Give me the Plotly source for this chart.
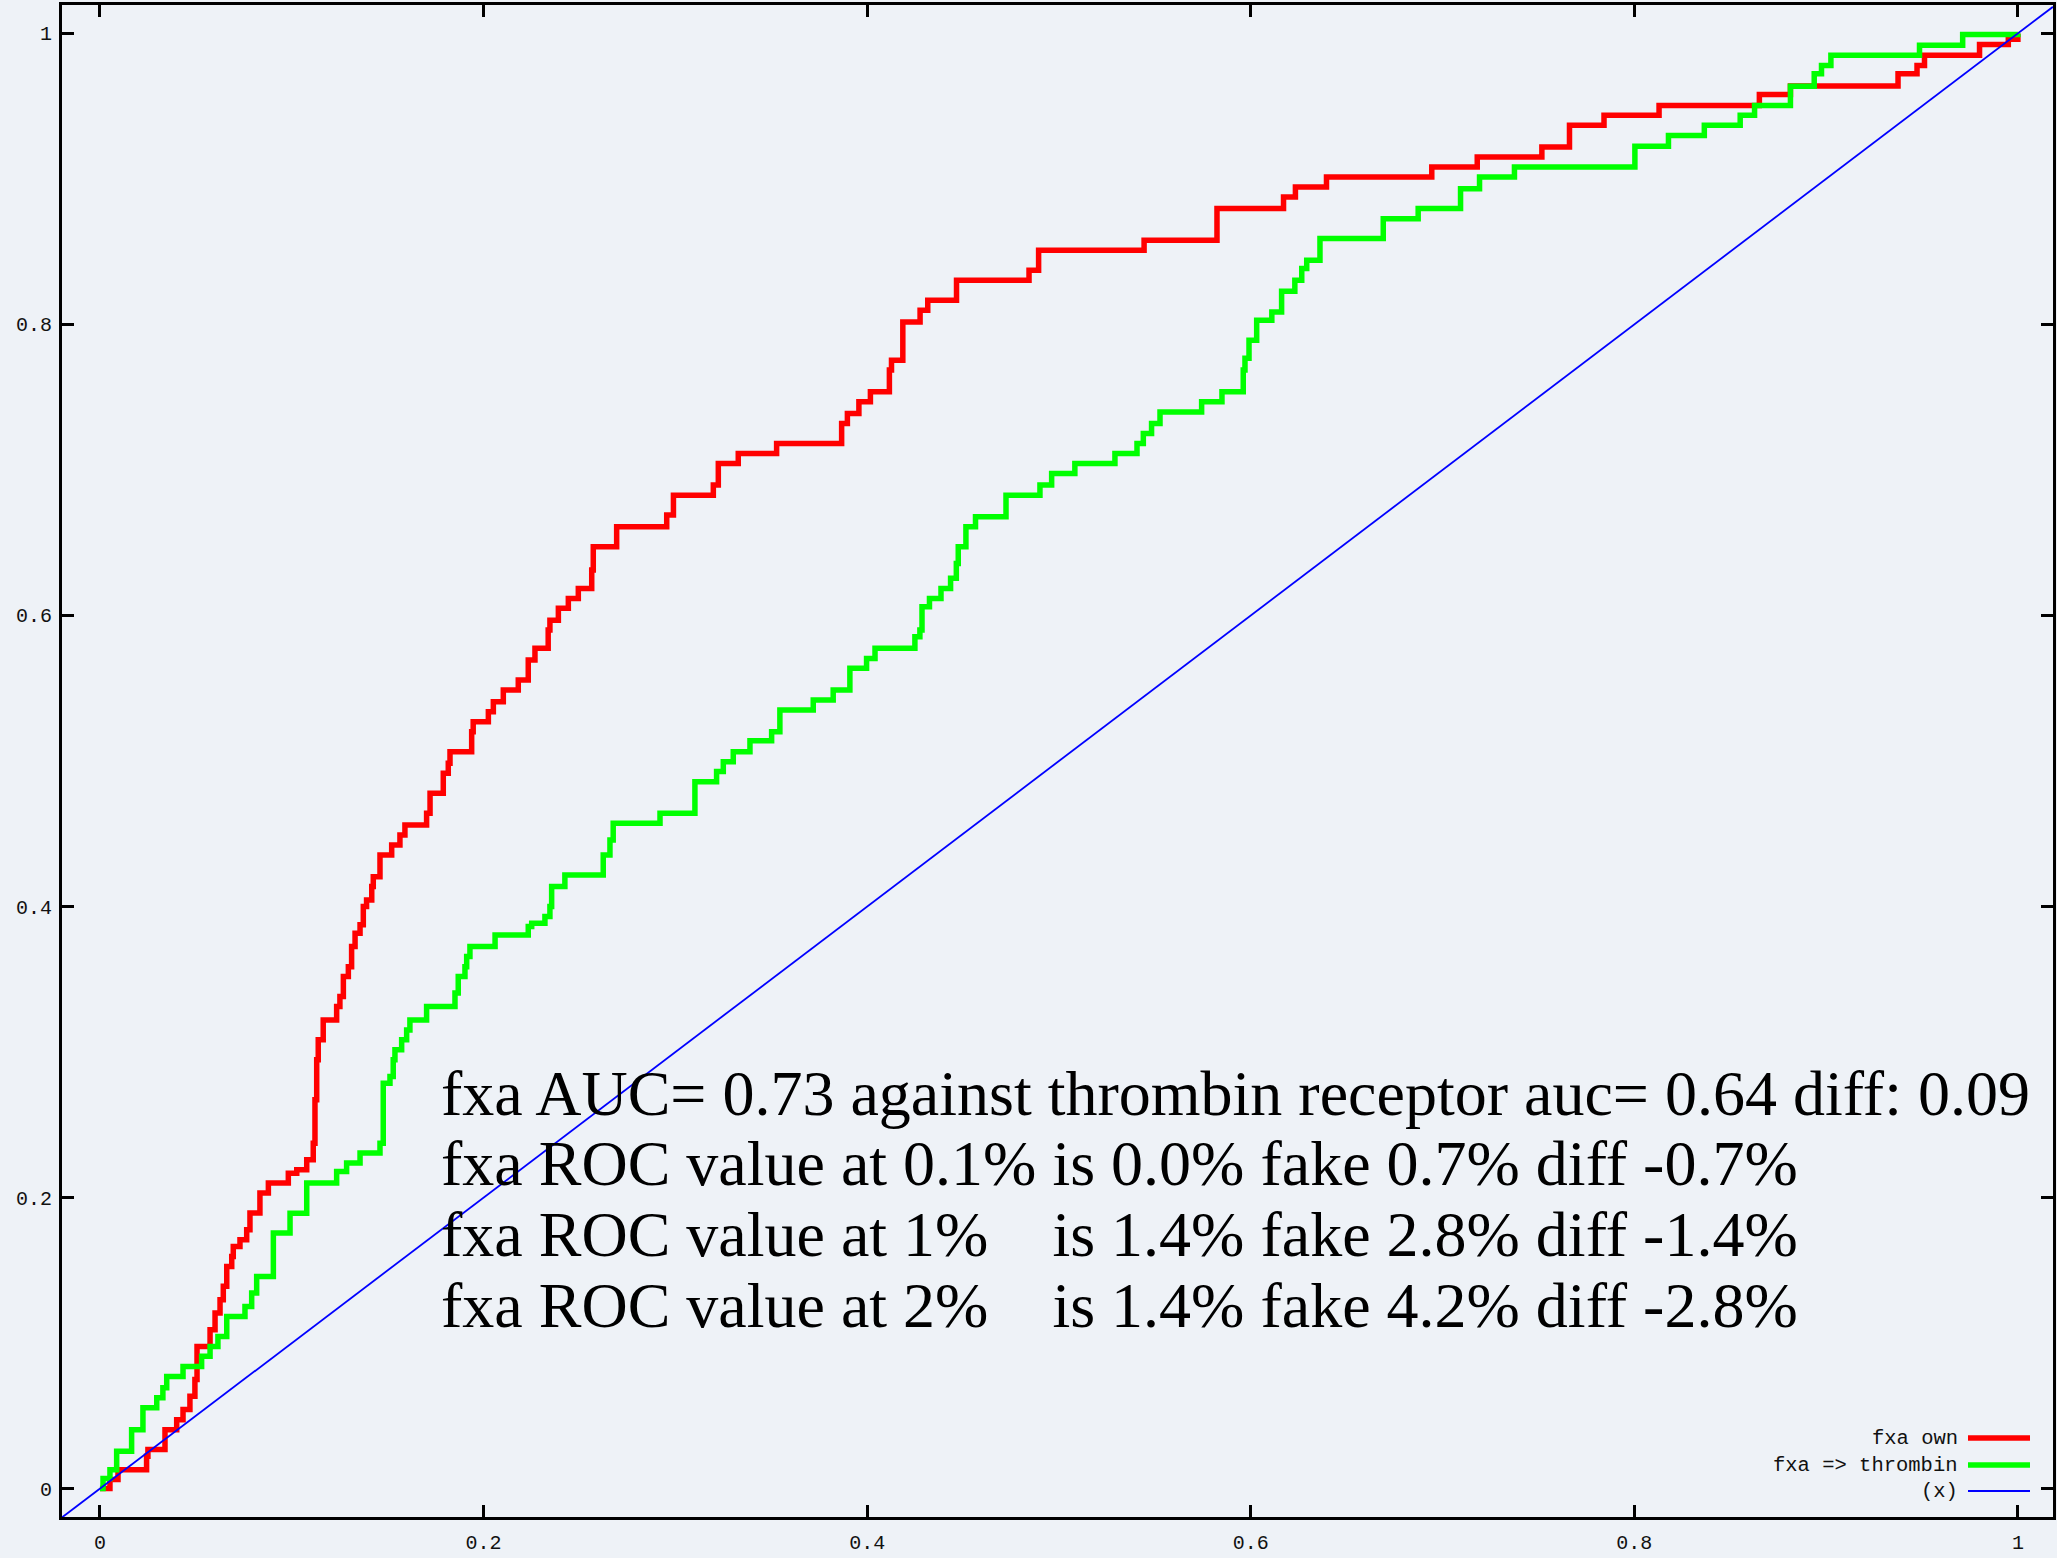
import plotly.graph_objects as go

# ---- data ----
fxa_own_fpr = [0, 0.0052, 0.0094, 0.0243, 0.025, 0.0339, 0.040, 0.0433, 0.0469, 0.0495,
               0.0506, 0.0574, 0.060, 0.0626, 0.0643, 0.0661, 0.0687, 0.0695, 0.073, 0.0765,
               0.0782, 0.0834, 0.0878, 0.0982, 0.1026, 0.1078, 0.1112, 0.1121, 0.113, 0.1138,
               0.1164, 0.1234, 0.1251, 0.1269, 0.1295, 0.1312, 0.1330, 0.1356, 0.1373, 0.139,
               0.1417, 0.1425, 0.146, 0.1521, 0.1564, 0.159, 0.1703, 0.1721, 0.179, 0.1816,
               0.1825, 0.1938, 0.1946, 0.2025, 0.2051, 0.2103, 0.2181, 0.2233, 0.2268, 0.2337,
               0.2346, 0.239, 0.2442, 0.2494, 0.2564, 0.2572, 0.2694, 0.2955, 0.299, 0.3198,
               0.3224, 0.3328, 0.3528, 0.3867, 0.3897, 0.3957, 0.4017, 0.4116, 0.4127, 0.4186,
               0.4276, 0.4316, 0.4466, 0.4844, 0.4894, 0.5444, 0.5824, 0.6171, 0.6233, 0.6395,
               0.6944, 0.7181, 0.7518, 0.7662, 0.7842, 0.8129, 0.8652, 0.8814, 0.9375, 0.9474,
               0.9513, 0.98, 0.995, 1.0]
fxa_own_tpr = [0, 0.0062, 0.0130, 0.0222, 0.0268, 0.0405, 0.0474, 0.0543, 0.0634, 0.0749,
               0.0977, 0.1092, 0.1207, 0.1298, 0.139, 0.1527, 0.1595, 0.1664, 0.171, 0.1779,
               0.1894, 0.2031, 0.21, 0.2168, 0.2191, 0.226, 0.2374, 0.2672, 0.2947, 0.3084,
               0.3221, 0.3313, 0.3381, 0.3519, 0.3587, 0.3725, 0.3817, 0.3874, 0.4, 0.4045,
               0.4137, 0.4205, 0.4354, 0.4423, 0.4492, 0.456, 0.4641, 0.4778, 0.4916, 0.4984,
               0.5064, 0.5201, 0.527, 0.5339, 0.5407, 0.5488, 0.5556, 0.5694, 0.5774, 0.59,
               0.5968, 0.6049, 0.6117, 0.6186, 0.6312, 0.6472, 0.6609, 0.669, 0.6827, 0.6896,
               0.7045, 0.7113, 0.7182, 0.7319, 0.7388, 0.7468, 0.7537, 0.7686, 0.7754, 0.8017,
               0.8097, 0.8166, 0.8303, 0.8372, 0.851, 0.8578, 0.8796, 0.8876, 0.8945, 0.9013,
               0.9082, 0.915, 0.9219, 0.9368, 0.9437, 0.9505, 0.958, 0.9638, 0.9723, 0.978,
               0.9849, 0.9924, 0.996, 1.0]

fxa_thr_fpr = [0, 0.0016, 0.0052, 0.0087, 0.0165, 0.0224, 0.0296, 0.0328, 0.0348, 0.0433,
               0.053, 0.0574, 0.0615, 0.0661, 0.0756, 0.0791, 0.0817, 0.0904, 0.0991, 0.1078,
               0.1234, 0.1286, 0.1356, 0.146, 0.1477, 0.1512, 0.1529, 0.1538, 0.1573, 0.1599,
               0.1616, 0.1703, 0.1851, 0.1868, 0.1903, 0.1912, 0.1929, 0.206, 0.2233, 0.2251,
               0.232, 0.2346, 0.2355, 0.2424, 0.2624, 0.2659, 0.2676, 0.292, 0.3102, 0.3215,
               0.325, 0.3302, 0.3389, 0.3502, 0.3545, 0.3719, 0.3823, 0.391, 0.3997, 0.4041,
               0.4249, 0.4275, 0.4286, 0.4325, 0.4385, 0.4435, 0.4465, 0.4475, 0.4515, 0.4565,
               0.4724, 0.4901, 0.4962, 0.5083, 0.5292, 0.5407, 0.544, 0.5483, 0.5527, 0.5744,
               0.585, 0.5961, 0.597, 0.5991, 0.6031, 0.611, 0.6161, 0.623, 0.6266, 0.6292,
               0.6361, 0.6691, 0.6873, 0.7094, 0.7193, 0.7375, 0.8003, 0.8178, 0.8365, 0.8552,
               0.8627, 0.8814, 0.8938, 0.8976, 0.9025, 0.9487, 0.9712, 1.0]
fxa_thr_tpr = [0, 0.0069, 0.013, 0.0256, 0.0405, 0.0556, 0.0625, 0.0694, 0.0771, 0.084,
               0.0909, 0.0977, 0.1046, 0.1183, 0.1252, 0.1344, 0.1458, 0.1756, 0.1893, 0.21,
               0.2179, 0.2237, 0.2306, 0.2374, 0.2786, 0.2832, 0.2947, 0.3015, 0.3084, 0.3152,
               0.3221, 0.3313, 0.3405, 0.3519, 0.3587, 0.3656, 0.3725, 0.3805, 0.3862, 0.3885,
               0.3931, 0.4, 0.4137, 0.4217, 0.4354, 0.4457, 0.4572, 0.4641, 0.4858, 0.4927,
               0.4995, 0.5064, 0.5139, 0.5201, 0.535, 0.5419, 0.5488, 0.5637, 0.5705, 0.5774,
               0.5854, 0.59, 0.606, 0.6117, 0.6186, 0.6255, 0.6358, 0.6472, 0.6609, 0.6678,
               0.6827, 0.6896, 0.6976, 0.7045, 0.7113, 0.7182, 0.7251, 0.7319, 0.7399, 0.7468,
               0.7537, 0.7686, 0.7768, 0.7891, 0.8029, 0.8086, 0.8228, 0.8303, 0.8384, 0.8441,
               0.859, 0.8727, 0.8796, 0.8933, 0.9013, 0.9082, 0.9224, 0.9299, 0.9368, 0.9437,
               0.9505, 0.9636, 0.9723, 0.978, 0.9849, 0.9918, 0.9993, 1.0]

diag_x = [-0.0198, 1.0183]
diag_y = [-0.0198, 1.0183]

series_names = ["fxa own", "fxa => thrombin", "(x)"]
series_colors = ["#ff0000", "#00ff00", "#0000ff"]

tick_vals = [0, 0.2, 0.4, 0.6, 0.8, 1]
tick_text = ["0", "0.2", "0.4", "0.6", "0.8", "1"]

info_lines = [
    "fxa AUC= 0.73 against thrombin receptor auc= 0.64 diff: 0.09",
    "fxa ROC value at 0.1% is 0.0% fake 0.7% diff -0.7%",
    "fxa ROC value at 1%\u00a0\u00a0\u00a0\u00a0is 1.4% fake 2.8% diff -1.4%",
    "fxa ROC value at 2%\u00a0\u00a0\u00a0\u00a0is 1.4% fake 4.2% diff -2.8%",
]

# ---- figure ----
W, H = 2057, 1558
ML, MR, MT, MB = 62, 4, 5, 41
BG = "#eef2f7"

fig = go.Figure()
fig.add_trace(go.Scatter(x=fxa_own_fpr, y=fxa_own_tpr, mode="lines", line_shape="hv",
                         line=dict(color=series_colors[0], width=5.5), name=series_names[0]))
fig.add_trace(go.Scatter(x=fxa_thr_fpr, y=fxa_thr_tpr, mode="lines", line_shape="hv",
                         line=dict(color=series_colors[1], width=5.5), name=series_names[1]))
fig.add_trace(go.Scatter(x=diag_x, y=diag_y, mode="lines",
                         line=dict(color=series_colors[2], width=1.8), name=series_names[2]))

axis_common = dict(
    showgrid=False, zeroline=False, showline=True, linecolor="black", linewidth=3,
    mirror="ticks", ticks="inside", ticklen=12, tickwidth=3, tickcolor="black",
    tickvals=tick_vals, ticktext=tick_text, automargin=False,
    tickfont=dict(family="Liberation Mono", size=20, color="#111111"),
)
fig.update_xaxes(range=[-0.0198, 1.0183], ticklabelstandoff=5, **axis_common)
fig.update_yaxes(range=[-0.0195, 1.0195], ticklabelstandoff=3, **axis_common)

plot_h = H - MT - MB
plot_w = W - ML - MR
line_centers_px = [1093, 1163, 1234, 1305]
for txt, cy in zip(info_lines, line_centers_px):
    fig.add_annotation(text=txt, xref="paper", yref="paper",
                       x=(439 - ML) / plot_w, y=(H - MB - cy) / plot_h,
                       xanchor="left", yanchor="middle", showarrow=False,
                       font=dict(family="Liberation Serif", size=64, color="black"))

# gnuplot-style key (text on the left, line sample on the right)
key_rows_px = [1438, 1465, 1491]
key_widths = [5.5, 5.5, 1.8]
for name, col, lw, cy in zip(series_names, series_colors, key_widths, key_rows_px):
    yp = (H - MB - cy) / plot_h
    fig.add_annotation(text=name, xref="paper", yref="paper",
                       x=(1960 - ML) / plot_w, y=yp, xanchor="right", yanchor="middle",
                       showarrow=False,
                       font=dict(family="Liberation Mono", size=20.5, color="#111111"))
    fig.add_shape(type="line", xref="paper", yref="paper",
                  x0=(1968 - ML) / plot_w, x1=(2030 - ML) / plot_w, y0=yp, y1=yp,
                  line=dict(color=col, width=lw))

fig.update_layout(
    width=W, height=H, showlegend=False,
    margin=dict(l=ML, r=MR, t=MT, b=MB, pad=0, autoexpand=False),
    paper_bgcolor=BG, plot_bgcolor=BG,
)

fig.write_html("out.html")
